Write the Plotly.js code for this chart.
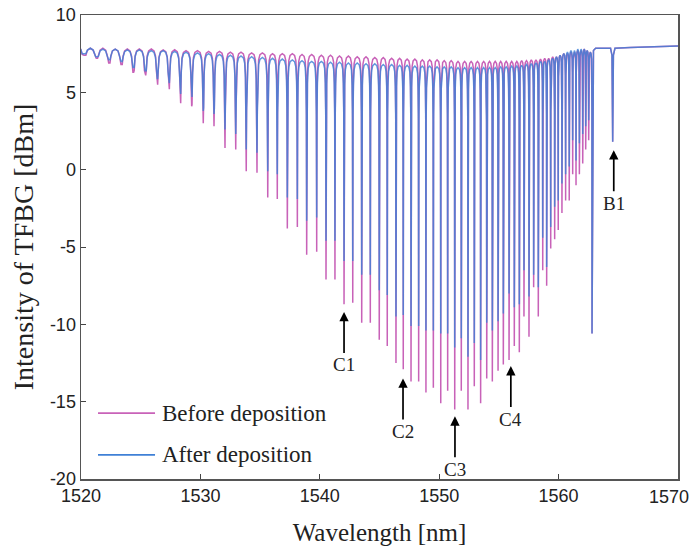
<!DOCTYPE html>
<html>
<head>
<meta charset="utf-8">
<script src="https://cdn.plot.ly/plotly-3.0.1.min.js"></script>
<style>html,body{margin:0;padding:0;background:#fff;}#chart{width:692px;height:551px;}</style>
</head>
<body>
<div id="chart"></div>
<script>
// Resonance dip wavelengths (nm)
const dipWavelength = [
  1520.25, 1521.31, 1522.35, 1523.38, 1524.38, 1525.39, 1526.39, 1527.37, 1528.32, 1529.27,
  1530.24, 1531.14, 1532.06, 1532.96, 1533.84, 1534.74, 1535.64, 1536.44, 1537.28, 1538.12,
  1538.90, 1539.74, 1540.52, 1541.27, 1542.03, 1542.76, 1543.51, 1544.23, 1544.98, 1545.65,
  1546.38, 1546.99, 1547.64, 1548.28, 1548.89, 1549.51, 1550.13, 1550.71, 1551.30, 1551.85,
  1552.41, 1552.94, 1553.47, 1553.98, 1554.45, 1554.93, 1555.37, 1555.85, 1556.29, 1556.71,
  1557.10, 1557.52, 1557.91, 1558.30, 1558.67, 1559.00, 1559.34, 1559.67, 1559.97, 1560.28,
  1560.59, 1560.89, 1561.18, 1561.46, 1561.74, 1562.02, 1562.27, 1562.52, 1562.80
];
// Dip minimum (dBm) before deposition
const beforeDip = [
  7.4, 7.2, 6.9, 6.8, 6.3, 6.1, 5.5, 5.2, 4.3, 4.1,
  3.0, 2.8, 1.4, 1.3, -0.1, -0.2, -1.8, -1.9, -3.8, -3.7,
  -5.5, -5.3, -7.1, -7.1, -8.7, -8.6, -9.9, -9.9, -11.0, -11.4,
  -12.5, -12.9, -13.7, -13.7, -14.4, -14.1, -15.1, -14.3, -15.5, -14.3,
  -15.5, -14.0, -15.1, -13.5, -13.7, -13.0, -12.6, -12.3, -11.4, -11.8,
  -9.5, -10.8, -7.6, -9.5, -6.5, -7.5, -5.1, -4.5, -3.9, -2.8,
  -2.0, -2.0, -0.3, -1.0, -0.3, 0.4, 1.3, 1.9, -10.6
];
// Dip minimum (dBm) after deposition
const afterDip = [
  7.5, 7.3, 7.1, 7.0, 6.6, 6.4, 5.9, 5.6, 4.9, 4.7,
  3.8, 3.6, 2.6, 2.3, 1.3, 1.1, -0.1, -0.3, -1.8, -1.9,
  -3.3, -3.1, -4.6, -4.6, -5.9, -5.9, -6.8, -6.8, -7.8, -8.1,
  -9.5, -9.4, -10.1, -10.1, -10.4, -10.4, -10.6, -10.6, -11.5, -10.9,
  -12.1, -11.2, -12.3, -9.9, -10.4, -9.8, -9.3, -8.0, -8.9, -8.7,
  -6.5, -8.2, -6.8, -7.6, -4.4, -6.3, -3.7, -2.4, -2.0, -0.9,
  -0.3, 0.2, 1.9, 0.6, 1.7, 2.3, 2.8, 3.2, -10.6
];
// Level of the arch preceding each dip (dBm)
const beforePeak = [
  7.9, 7.85, 7.85, 7.8, 7.8, 7.8, 7.8, 7.75, 7.75, 7.7,
  7.7, 7.65, 7.65, 7.6, 7.6, 7.55, 7.55, 7.5, 7.5, 7.5,
  7.45, 7.45, 7.4, 7.4, 7.35, 7.35, 7.3, 7.3, 7.25, 7.25,
  7.2, 7.2, 7.15, 7.15, 7.1, 7.1, 7.1, 7.05, 7.05, 7.0,
  7.0, 7.0, 7.0, 7.0, 7.0, 7.0, 7.0, 7.0, 7.0, 7.0,
  7.05, 7.05, 7.1, 7.1, 7.15, 7.2, 7.2, 7.3, 7.3, 7.4,
  7.5, 7.5, 7.6, 7.6, 7.7, 7.7, 7.8, 7.7, 7.6
];
const afterPeak = [
  7.9, 7.85, 7.8, 7.8, 7.75, 7.75, 7.7, 7.7, 7.65, 7.6,
  7.55, 7.5, 7.45, 7.4, 7.35, 7.3, 7.25, 7.2, 7.15, 7.1,
  7.05, 7.0, 7.0, 6.95, 6.95, 6.9, 6.9, 6.85, 6.85, 6.8,
  6.8, 6.75, 6.75, 6.7, 6.7, 6.7, 6.65, 6.65, 6.65, 6.6,
  6.6, 6.6, 6.6, 6.6, 6.6, 6.6, 6.65, 6.65, 6.7, 6.7,
  6.75, 6.8, 6.85, 6.9, 7.0, 7.0, 7.1, 7.2, 7.3, 7.4,
  7.5, 7.6, 7.7, 7.7, 7.8, 7.8, 7.8, 7.7, 7.6
];
// Region beyond the cladding modes, with the Bragg dip B1
const tailWavelength = [1562.92, 1563.1, 1564.35, 1564.47, 1564.53, 1564.59, 1564.72, 1566.0, 1570.0];
const beforeTail = [7.7, 7.85, 7.85, 7.4, 1.8, 7.4, 7.85, 7.9, 8.0];
const afterTail  = [7.7, 7.85, 7.85, 7.4, 1.8, 7.4, 7.85, 7.9, 8.0];
// Arrow labels
const markLabel = ['C1', 'C2', 'C3', 'C4', 'B1'];
const markWavelength = [1542.03, 1546.97, 1551.32, 1556.0, 1564.62];
const markLevel = [-9.2, -13.5, -15.95, -12.7, 1.26];
// Series names and tick labels
const seriesName = ['Before deposition', 'After deposition'];
const xTickValues = [1520, 1530, 1540, 1550, 1560, 1570];
const xTickLabels = ['1520', '1530', '1540', '1550', '1560', '1570'];
const yTickValues = [-20, -15, -10, -5, 0, 5, 10];
const yTickLabels = ['-20', '-15', '-10', '-5', '0', '5', '10'];

// dip profile template (fraction of half gap, drop below arch in dB)
const shapeF = [0.55, 0.3, 0.15, 0.06];
const shapeD = [0.12, 0.45, 1.4, 3.5];

function buildSpectrum(dx, dy, py, tx, ty) {
  const xs = [], ys = [];
  const n = dx.length;
  for (let i = 0; i < n; i++) {
    const gL = i === 0 ? 0.5 : (dx[i] - dx[i-1]) / 2;
    const p = py[i];
    xs.push(dx[i] - gL); ys.push(p);
    for (let k = 0; k < shapeF.length; k++) {
      xs.push(dx[i] - shapeF[k] * gL); ys.push(Math.max(p - shapeD[k], dy[i]));
    }
    xs.push(dx[i]); ys.push(dy[i]);
    if (i < n - 1) {
      const gR = (dx[i+1] - dx[i]) / 2;
      const pn = py[i+1];
      for (let k = shapeF.length - 1; k >= 0; k--) {
        xs.push(dx[i] + shapeF[k] * gR); ys.push(Math.max(pn - shapeD[k], dy[i]));
      }
    }
  }
  for (let j = 0; j < tx.length; j++) { xs.push(tx[j]); ys.push(ty[j]); }
  return {x: xs, y: ys};
}

const sb = buildSpectrum(dipWavelength, beforeDip, beforePeak, tailWavelength, beforeTail);
const sa = buildSpectrum(dipWavelength, afterDip, afterPeak, tailWavelength, afterTail);

const serif = 'Liberation Serif, Times New Roman, serif';
const sans = 'Liberation Sans, Arial, sans-serif';
const colBefore = '#c862b8';
const colAfter = '#3f80d6';

const traces = [
  {x: sb.x, y: sb.y, mode: 'lines', name: seriesName[0], line: {color: colBefore, width: 1.5}},
  {x: sa.x, y: sa.y, mode: 'lines', name: seriesName[1], line: {color: colAfter, width: 1.5}, opacity: 0.82}
];

const annotations = markLabel.map((t, i) => ({
  x: markWavelength[i], y: markLevel[i], xref: 'x', yref: 'y',
  text: t, showarrow: true, arrowhead: 2, arrowsize: 1.1, arrowwidth: 1.7,
  arrowcolor: '#000', ax: 0, ay: 53, standoff: 0,
  font: {family: serif, size: 19, color: '#222'}
}));

// the last x tick label sits at the page edge: draw it right-aligned so it stays whole
const lastTick = xTickLabels.length - 1;
const shownTickLabels = xTickLabels.map((t, i) => i === lastTick ? '' : t);
annotations.push({xref: 'paper', yref: 'paper', x: 1.0218, y: 0, xanchor: 'right', yanchor: 'top',
  yshift: -6, text: xTickLabels[lastTick], showarrow: false,
  font: {family: sans, size: 18, color: '#222'}});

// legend with long sample lines as in the figure
const legY = [0.142, 0.052];
const legCol = [colBefore, colAfter];
const shapes = [];
seriesName.forEach((nm, i) => {
  shapes.push({type: 'line', xref: 'paper', yref: 'paper', x0: 0.0285, x1: 0.124, y0: legY[i], y1: legY[i],
    line: {color: legCol[i], width: 1.8}});
  annotations.push({xref: 'paper', yref: 'paper', x: 0.132, y: legY[i], xanchor: 'left', yanchor: 'middle',
    text: nm, showarrow: false, font: {family: serif, size: 23, color: '#222'}});
});

const layout = {
  width: 692, height: 551,
  margin: {l: 81, r: 14, t: 15, b: 72},
  paper_bgcolor: '#fff', plot_bgcolor: '#fff',
  showlegend: false,
  xaxis: {range: [1520, 1570], tickvals: xTickValues, ticktext: shownTickLabels, showgrid: false, zeroline: false,
    ticks: 'inside', ticklen: 5, tickcolor: '#444', showline: true, linecolor: '#555', linewidth: 1.5, mirror: true,
    tickfont: {family: sans, size: 18, color: '#222'},
    title: {text: 'Wavelength [nm]', font: {family: serif, size: 25, color: '#222'}, standoff: 18}},
  yaxis: {range: [-20, 10], tickvals: yTickValues, ticktext: yTickLabels, showgrid: false, zeroline: false,
    ticks: 'inside', ticklen: 5, tickcolor: '#444', showline: true, linecolor: '#555', linewidth: 1.5, mirror: true,
    tickfont: {family: sans, size: 18, color: '#222'},
    title: {text: 'Intensity of TFBG [dBm]', font: {family: serif, size: 28, color: '#222'}, standoff: 8}},
  shapes: shapes,
  annotations: annotations
};

Plotly.newPlot('chart', traces, layout, {displayModeBar: false, staticPlot: true});
</script>
</body>
</html>
